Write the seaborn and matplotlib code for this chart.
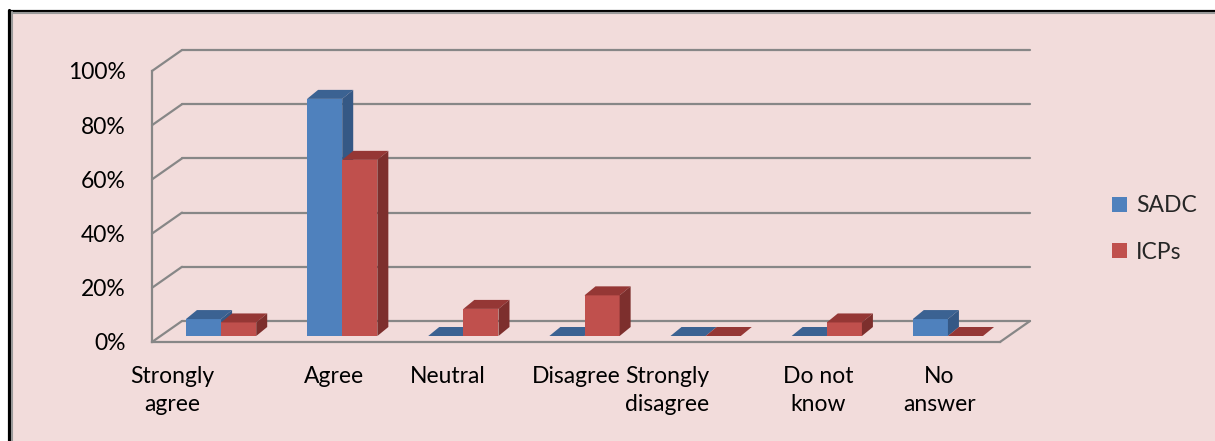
import pandas as pd
import seaborn as sns
import matplotlib.pyplot as plt
import matplotlib.transforms as mtransforms
from matplotlib.patches import Rectangle, Polygon
from matplotlib.lines import Line2D

# Data (percent of respondents)
categories = ["Strongly\nagree", "Agree", "Neutral", "Disagree", "Strongly\ndisagree", "Do not\nknow", "No\nanswer"]
sadc = [6.25, 87.5, 0, 0, 0, 0, 6.25]
icps = [5, 65, 10, 15, 0, 5, 0]
series = ["SADC", "ICPs"]
yticks = [0, 20, 40, 60, 80, 100]

df = pd.DataFrame({
    "category": categories * 2,
    "value": sadc + icps,
    "series": ["SADC"] * len(categories) + ["ICPs"] * len(categories),
})

sns.set_style("white")
plt.rcParams["font.family"] = ["Lato", "DejaVu Sans"]

W, H, DPI = 1215, 441, 100
FS = 16.5
bg = "#F2DCDB"
grid_col = "#878787"
front = {"SADC": "#4F81BD", "ICPs": "#C0504D"}
top_col = {"SADC": "#3B6292", "ICPs": "#953735"}
side_col = {"SADC": "#355885", "ICPs": "#7D2F2D"}

fig = plt.figure(figsize=(W / DPI, H / DPI), dpi=DPI, facecolor="white")

# chart area background + border
fig.patches.append(Rectangle((12 / W, 0), 1, 1 - 13 / H, transform=fig.transFigure,
                             facecolor=bg, edgecolor="none", zorder=-5))
fig.add_artist(Line2D([8.5 / W, 8.5 / W], [0, 1 - 9.5 / H], color="black", lw=2.3))
fig.add_artist(Line2D([8.5 / W, 1], [1 - 10.5 / H, 1 - 10.5 / H], color="black", lw=2.3))
fig.add_artist(Line2D([11.5 / W, 11.5 / W], [0, 1 - 12 / H], color="#9a9a9a", lw=1.5))
fig.add_artist(Line2D([11.5 / W, 1], [1 - 12.5 / H, 1 - 12.5 / H], color="#9a9a9a", lw=1.5))

# axes: front x from 152px to 1000px, 0% at y=342px, 100% at y=71px
ax = fig.add_axes([152 / W, (H - 342) / H, 848 / W, 271 / H])
ax.set_facecolor("none")

sns.barplot(data=df, x="category", y="value", hue="series", hue_order=series,
            palette=[front[s] for s in series], saturation=1, width=0.58,
            linewidth=0, ax=ax)

ax.set_xlim(-0.5, 6.5)
ax.set_ylim(0, 100)

# perspective depth of the walls (in data units)
DX = 30 / 121.14
DY = 21 / 2.71

# back wall gridlines and left wall diagonals
for v in yticks:
    ax.plot([-0.5 + DX, 6.5 + DX], [v + DY, v + DY], color=grid_col, lw=1.6, clip_on=False, zorder=1)
    ax.plot([-0.5, -0.5 + DX], [v, v + DY], color=grid_col, lw=1.6, clip_on=False, zorder=1)
ax.plot([6.5, 6.5 + DX], [0, DY], color=grid_col, lw=1.6, clip_on=False, zorder=1)

# 3D faces for each bar, bars pushed back into the middle of the floor
shift = ax.transData + mtransforms.ScaledTranslation(8.5 / DPI, 6 / DPI, fig.dpi_scale_trans)
ddx, ddy = 11 / 121.14, 9 / 2.71
n = len(categories)
for i, p in enumerate(ax.patches[:2 * n]):
    s = series[i // n]
    z = 3 + (i // n) * 0.5
    x0, w, h = p.get_x(), p.get_width(), p.get_height()
    p.set_transform(shift)
    p.set_clip_on(False)
    p.set_zorder(z)
    topf = Polygon([(x0, h), (x0 + w, h), (x0 + w + ddx, h + ddy), (x0 + ddx, h + ddy)],
                   closed=True, facecolor=top_col[s], edgecolor="none",
                   transform=shift, clip_on=False, zorder=z + 0.1)
    sidef = Polygon([(x0 + w, 0), (x0 + w, h), (x0 + w + ddx, h + ddy), (x0 + w + ddx, ddy)],
                    closed=True, facecolor=side_col[s], edgecolor="none",
                    transform=shift, clip_on=False, zorder=z + 0.1)
    ax.add_patch(topf)
    ax.add_patch(sidef)

# front axes
for side in ["top", "right"]:
    ax.spines[side].set_visible(False)
for side in ["left", "bottom"]:
    ax.spines[side].set_color(grid_col)
    ax.spines[side].set_linewidth(1.6)
    ax.spines[side].set_zorder(2)

ax.set_yticks(yticks)
ax.set_yticklabels([f"{v}%" for v in yticks])
ax.set_xticks([i - 0.5 for i in range(n + 1)])
ax.set_xticklabels([])
ax.tick_params(axis="both", direction="out", length=6, width=1.4, color=grid_col)
ax.tick_params(axis="y", pad=13, labelsize=FS, labelcolor="black")
ax.set_xlabel("")
ax.set_ylabel("")

# category labels (Excel puts the wrapped "Strongly" labels a bit to the left)
nudge = {0: -0.33, 2: -0.06, 4: -0.25}
lab_trans = mtransforms.blended_transform_factory(ax.transData, ax.transAxes)
for i, lab in enumerate(categories):
    ax.text(i + nudge.get(i, 0), -0.088, lab, transform=lab_trans, ha="center", va="top",
            fontsize=FS, linespacing=1.4, color="black")

sns.move_legend(ax, loc="center left", bbox_to_anchor=(1.108, 0.417), title=None,
                frameon=False, fontsize=FS, handlelength=0.65, handleheight=0.65,
                handletextpad=0.4, labelspacing=1.1)

fig.savefig("out.png", dpi=DPI, facecolor="white")
